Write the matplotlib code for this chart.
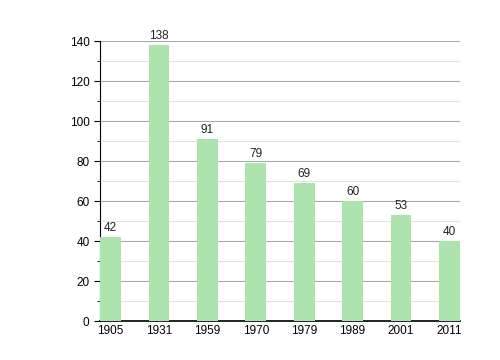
import matplotlib.pyplot as plt
import numpy as np
from matplotlib.ticker import MultipleLocator

plt.rcParams['font.family'] = ['Liberation Sans', 'DejaVu Sans']

# data
years = ['1905', '1931', '1959', '1970', '1979', '1989', '2001', '2011']
values = [42, 138, 91, 79, 69, 60, 53, 40]

fig = plt.figure(figsize=(5, 3.6), dpi=100)
ax = fig.add_axes([0.2, 0.108, 0.72, 0.778])

x = np.arange(len(years))
ax.bar(x, values, width=0.43, color='#ade3ad', zorder=3)

for xi, v in zip(x, values):
    ax.text(xi, v + 1.5, str(v), ha='center', va='bottom', fontsize=8.5, color='#222222')

ax.set_xlim(-0.22, 7.22)
ax.set_ylim(0, 140)
ax.set_xticks(x)
ax.set_xticklabels(years)
ax.yaxis.set_major_locator(MultipleLocator(20))
ax.yaxis.set_minor_locator(MultipleLocator(10))

ax.grid(axis='y', which='major', color='#aaaaaa', linewidth=0.8, zorder=0)
ax.grid(axis='y', which='minor', color='#e2e2e2', linewidth=0.8, zorder=0)

ax.spines['top'].set_visible(False)
ax.spines['right'].set_visible(False)
ax.spines['bottom'].set_linewidth(1.2)
ax.tick_params(axis='x', length=0, labelsize=8.5, pad=3)
ax.tick_params(axis='y', which='major', length=4, labelsize=8.5)
ax.tick_params(axis='y', which='minor', length=2)

plt.savefig('out.png', dpi=100)
